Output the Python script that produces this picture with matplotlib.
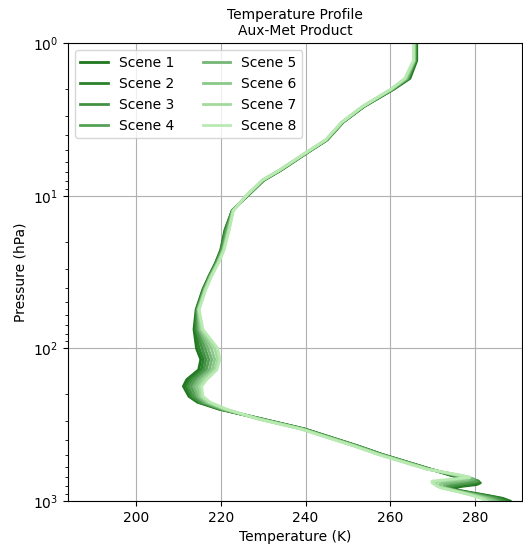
import matplotlib
matplotlib.use("Agg")
import matplotlib.pyplot as plt
import numpy as np

pressure = [1, 1.3, 1.7, 2.0, 2.6, 3.3, 4.3, 5.2, 6.8, 7.9, 10, 12.5, 16.7, 22.6, 27.4,
            33.8, 41, 55.6, 75, 100, 118, 138, 160, 177, 206, 225, 250, 290, 337, 437,
            494, 618, 680, 700, 720, 740, 760, 780, 800, 820, 850, 880, 920, 960, 1000]

scene_names = ["Scene 1", "Scene 2", "Scene 3", "Scene 4",
               "Scene 5", "Scene 6", "Scene 7", "Scene 8"]

scene_1 = [266.2, 266.2, 264.6, 260.8, 253.8, 248.8, 245.1, 240.5, 234.2, 230.2, 226.3, 222.7, 221.0, 220.0, 218.8,
           217.2, 215.8, 214.2, 213.7, 214.3, 215.3, 214.8, 212.0, 211.2, 212.5, 214.5, 219.6, 229.8, 239.8, 252.5,
           258.0, 269.5, 274.3, 276.0, 278.0, 280.0, 281.2, 280.3, 277.0, 274.8, 276.0, 279.0, 283.0, 286.5, 288.2]
scene_2 = [266.0, 266.0, 264.4, 260.7, 253.7, 248.8, 245.0, 240.4, 234.1, 230.1, 226.3, 222.7, 221.1, 220.1, 218.9,
           217.2, 215.9, 214.3, 214.0, 214.9, 215.9, 215.4, 212.6, 211.7, 212.9, 214.8, 219.8, 229.7, 239.7, 252.4,
           257.9, 269.4, 274.6, 276.4, 278.6, 280.6, 281.0, 278.6, 275.6, 274.2, 275.8, 278.6, 282.6, 286.0, 287.6]
scene_3 = [265.9, 265.9, 264.2, 260.6, 253.6, 248.7, 245.0, 240.4, 234.0, 230.0, 226.2, 222.8, 221.2, 220.2, 219.0,
           217.3, 216.0, 214.4, 214.3, 215.6, 216.5, 216.0, 213.3, 212.3, 213.4, 215.2, 220.0, 229.6, 239.6, 252.3,
           257.8, 269.3, 275.0, 277.0, 279.4, 280.8, 279.0, 276.2, 274.0, 273.8, 275.5, 278.3, 282.0, 285.2, 286.8]
scene_4 = [265.8, 265.8, 264.0, 260.5, 253.6, 248.7, 244.9, 240.3, 234.0, 230.0, 226.2, 222.8, 221.4, 220.3, 219.1,
           217.4, 216.1, 214.5, 214.6, 216.3, 217.2, 216.6, 214.0, 213.0, 214.0, 215.7, 220.2, 229.5, 239.5, 252.2,
           257.6, 269.2, 275.4, 277.6, 279.8, 280.2, 277.0, 274.0, 273.2, 273.4, 275.2, 277.9, 281.4, 284.4, 286.0]
scene_5 = [265.7, 265.7, 263.9, 260.4, 253.5, 248.6, 244.9, 240.3, 233.9, 229.9, 226.1, 222.8, 221.6, 220.5, 219.2,
           217.5, 216.2, 214.6, 214.9, 217.0, 217.9, 217.3, 214.7, 213.7, 214.5, 216.2, 220.5, 229.3, 239.3, 252.0,
           257.5, 269.0, 275.8, 278.2, 279.6, 277.6, 274.4, 272.6, 272.6, 273.0, 275.0, 277.5, 280.8, 283.6, 285.2]
scene_6 = [265.6, 265.6, 263.7, 260.3, 253.5, 248.6, 244.8, 240.2, 233.9, 229.9, 226.1, 222.9, 221.8, 220.6, 219.3,
           217.6, 216.3, 214.7, 215.2, 217.8, 218.6, 218.0, 215.4, 214.4, 215.0, 216.7, 220.8, 229.1, 239.1, 251.8,
           257.3, 268.9, 276.2, 278.6, 278.4, 274.6, 272.2, 271.6, 272.0, 272.6, 274.8, 277.2, 280.2, 282.8, 284.4]
scene_7 = [265.5, 265.5, 263.5, 260.2, 253.4, 248.5, 244.8, 240.2, 233.8, 229.8, 226.0, 222.9, 221.9, 220.7, 219.4,
           217.7, 216.4, 214.8, 215.5, 218.6, 219.3, 218.6, 216.0, 215.0, 215.4, 217.1, 221.1, 228.9, 238.9, 251.6,
           257.1, 268.7, 276.6, 278.8, 276.0, 271.8, 270.6, 270.8, 271.4, 272.2, 274.6, 276.9, 279.7, 282.0, 283.4]
scene_8 = [265.4, 265.4, 263.4, 260.1, 253.4, 248.5, 244.7, 240.1, 233.8, 229.8, 226.0, 223.0, 222.0, 220.8, 219.5,
           217.8, 216.5, 214.9, 215.8, 219.3, 219.8, 219.1, 216.7, 215.5, 215.8, 217.5, 221.4, 228.8, 238.8, 251.5,
           257.0, 268.5, 277.0, 278.6, 274.0, 269.8, 269.8, 270.4, 271.0, 271.8, 274.4, 276.7, 279.3, 281.4, 282.6]

scenes = [scene_1, scene_2, scene_3, scene_4, scene_5, scene_6, scene_7, scene_8]
colors = ["#1f771f", "#2c822c", "#439143", "#56a056", "#76b676", "#8bc98b", "#a2da9c", "#b8eab2"]

fig = plt.figure(figsize=(5.23, 5.47), dpi=100)
ax = fig.add_axes([0.130, 0.084, 0.868, 0.837])

for name, temps, c in zip(scene_names, scenes, colors):
    ax.plot(temps, pressure, color=c, lw=2.0, label=name)

ax.set_yscale("log")
ax.set_ylim(1000, 1)
ax.set_xlim(184, 291)
ax.set_xticks([200, 220, 240, 260, 280])
ax.grid(True, which="major", color="#b0b0b0", lw=0.8)
ax.set_xlabel("Temperature (K)", fontsize=10)
ax.set_ylabel("Pressure (hPa)", fontsize=10)
ax.set_title("Temperature Profile\nAux-Met Product", fontsize=10)
ax.legend(ncol=2, loc="upper left", fontsize=10)

fig.savefig("out.png", dpi=100)
